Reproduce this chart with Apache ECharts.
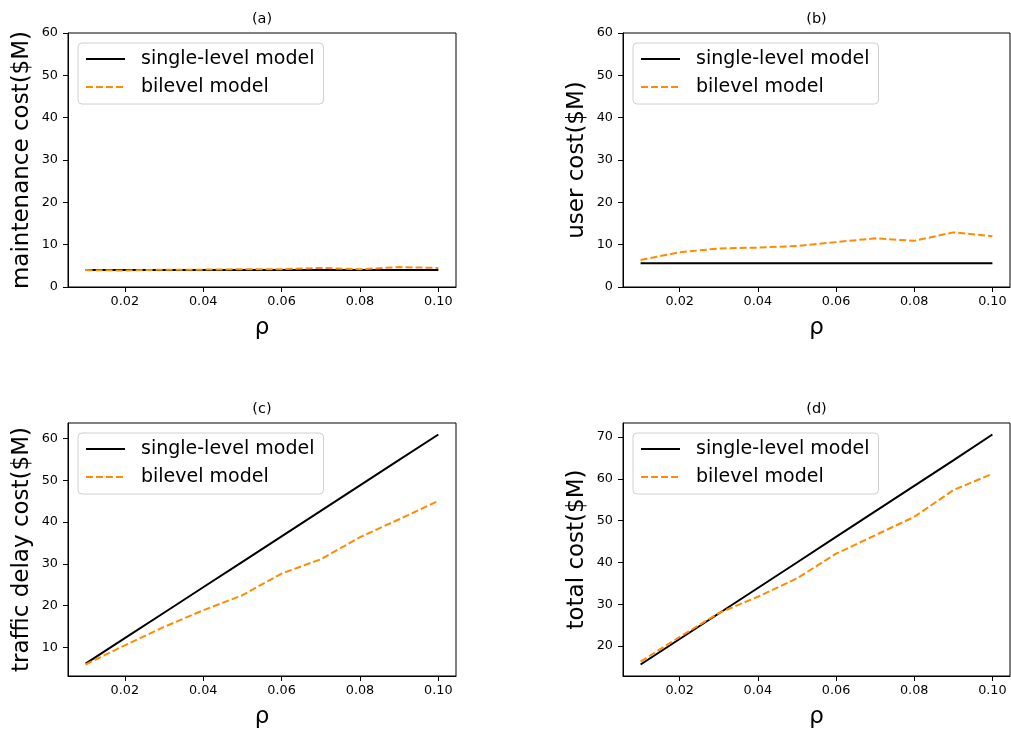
<!DOCTYPE html>
<html><head><meta charset="utf-8">
<script src="https://cdn.jsdelivr.net/npm/echarts@6/dist/echarts.min.js"></script>
<style>html,body{margin:0;padding:0;background:#fff}#c{width:1011px;height:730px}</style>
</head><body><div id="c"></div>
<script>
// ---- data ----
const rho = [0.01, 0.02, 0.03, 0.04, 0.05, 0.06, 0.07, 0.08, 0.09, 0.10];
const maintSingle  = [4.0, 4.0, 4.0, 4.0, 4.0, 4.0, 4.0, 4.0, 4.0, 4.0];
const maintBilevel = [4.0, 3.9, 4.1, 4.1, 4.2, 4.2, 4.5, 4.2, 4.7, 4.5];
const userSingle   = [5.6, 5.6, 5.6, 5.6, 5.6, 5.6, 5.6, 5.6, 5.6, 5.6];
const userBilevel  = [6.4, 8.2, 9.1, 9.3, 9.7, 10.6, 11.5, 10.9, 12.9, 12.0];
const delaySingle  = [6.1, 12.2, 18.3, 24.4, 30.5, 36.6, 42.7, 48.8, 54.9, 61.0];
const delayBilevel = [5.9, 10.5, 14.9, 18.9, 22.5, 27.7, 31.1, 36.4, 40.7, 45.1];
const totalSingle  = [15.6, 21.7, 27.8, 33.9, 40.0, 46.1, 52.2, 58.3, 64.4, 70.6];
const totalBilevel = [16.3, 22.2, 27.9, 31.8, 36.2, 42.1, 46.5, 50.9, 57.3, 61.2];
const seriesNames = ['single-level model', 'bilevel model'];
const panelTitles = ['(a)', '(b)', '(c)', '(d)'];
const yNames = ['maintenance cost($M)', 'user cost($M)', 'traffic delay cost($M)', 'total cost($M)'];
const xName = 'ρ';
const xTicks = [0.02, 0.04, 0.06, 0.08, 0.10];
const yTicksA = [0, 10, 20, 30, 40, 50, 60];
const yTicksB = [0, 10, 20, 30, 40, 50, 60];
const yTicksC = [10, 20, 30, 40, 50, 60];
const yTicksD = [20, 30, 40, 50, 60, 70];

// ---- layout ----
const FONT = 'DejaVu Sans';
const grids = [
  {left: 68, top: 33, width: 388, height: 254},
  {left: 623, top: 33, width: 387, height: 254},
  {left: 68, top: 423, width: 388, height: 253},
  {left: 623, top: 423, width: 387, height: 253}
];
const panels = [
  [maintSingle, maintBilevel, yTicksA, [0, 60]],
  [userSingle, userBilevel, yTicksB, [0, 60]],
  [delaySingle, delayBilevel, yTicksC, null],
  [totalSingle, totalBilevel, yTicksD, null]
];
function autoRange(a, b) {
  const all = a.concat(b);
  const lo = Math.min(...all), hi = Math.max(...all);
  const pad = 0.05 * (hi - lo);
  return [lo - pad, hi + pad];
}
const xPad = 0.05 * (rho[rho.length - 1] - rho[0]);
const xRange = [rho[0] - xPad, rho[rho.length - 1] + xPad];

const option = {
  backgroundColor: '#fff',
  animation: false,
  title: grids.map((g, i) => ({
    text: panelTitles[i], left: g.left + g.width / 2, top: g.top - 22, textAlign: 'center', padding: 0,
    textStyle: {fontFamily: FONT, fontSize: 14.5, fontWeight: 'normal', color: '#000', lineHeight: 16}
  })),
  grid: grids.map(g => Object.assign({show: true, borderColor: '#000', borderWidth: 1, backgroundColor: '#fff'}, g)),
  legend: grids.map(g => ({
    orient: 'vertical', left: g.left + 10, top: g.top + 10,
    data: seriesNames, itemWidth: 39, itemHeight: 14, itemGap: 6,
    padding: [5, 9, 6, 7], borderColor: '#d0d0d0', borderWidth: 1, borderRadius: 4,
    backgroundColor: 'rgba(255,255,255,0.8)', selectedMode: false,
    itemStyle: {opacity: 0},
    lineStyle: {opacity: 1},
    textStyle: {fontFamily: FONT, fontSize: 19, color: '#000', lineHeight: 22, padding: [0, 0, 0, 11]}
  })),
  xAxis: grids.map((g, i) => ({
    type: 'value', gridIndex: i, min: xRange[0], max: xRange[1],
    name: xName, nameLocation: 'middle', nameGap: 30,
    nameTextStyle: {fontFamily: FONT, fontSize: 23, color: '#000'},
    axisLine: {show: true, onZero: false, lineStyle: {color: '#000', width: 1}},
    axisTick: {show: true, length: 5, lineStyle: {color: '#000', width: 1}, customValues: xTicks},
    axisLabel: {fontFamily: FONT, fontSize: 12.8, color: '#000', margin: 8, customValues: xTicks,
      formatter: v => v.toFixed(2)},
    splitLine: {show: false}
  })),
  yAxis: grids.map((g, i) => {
    const p = panels[i];
    const r = p[3] || autoRange(p[0], p[1]);
    return {
      type: 'value', gridIndex: i, min: r[0], max: r[1],
      name: yNames[i], nameLocation: 'middle', nameGap: 34, nameRotate: 90,
      nameTextStyle: {fontFamily: FONT, fontSize: 23, color: '#000'},
      axisLine: {show: true, onZero: false, lineStyle: {color: '#000', width: 1}},
      axisTick: {show: true, length: 5, lineStyle: {color: '#000', width: 1}, customValues: p[2]},
      axisLabel: {fontFamily: FONT, fontSize: 12.8, color: '#000', margin: 10, customValues: p[2],
        formatter: v => String(Math.round(v))},
      splitLine: {show: false}
    };
  }),
  series: []
};
panels.forEach((p, i) => {
  option.series.push({
    name: seriesNames[0], type: 'line', xAxisIndex: i, yAxisIndex: i, symbol: 'none',
    data: rho.map((x, k) => [x, p[0][k]]),
    lineStyle: {color: '#000', width: 2}, itemStyle: {color: '#000'}, z: 2
  });
  option.series.push({
    name: seriesNames[1], type: 'line', xAxisIndex: i, yAxisIndex: i, symbol: 'none',
    data: rho.map((x, k) => [x, p[1][k]]),
    lineStyle: {color: '#ff8c00', width: 2, type: [7, 3]}, itemStyle: {color: '#ff8c00'}, z: 3
  });
});
const chart = echarts.init(document.getElementById('c'), null, {renderer: 'canvas'});
chart.setOption(option);
</script>
</body></html>
